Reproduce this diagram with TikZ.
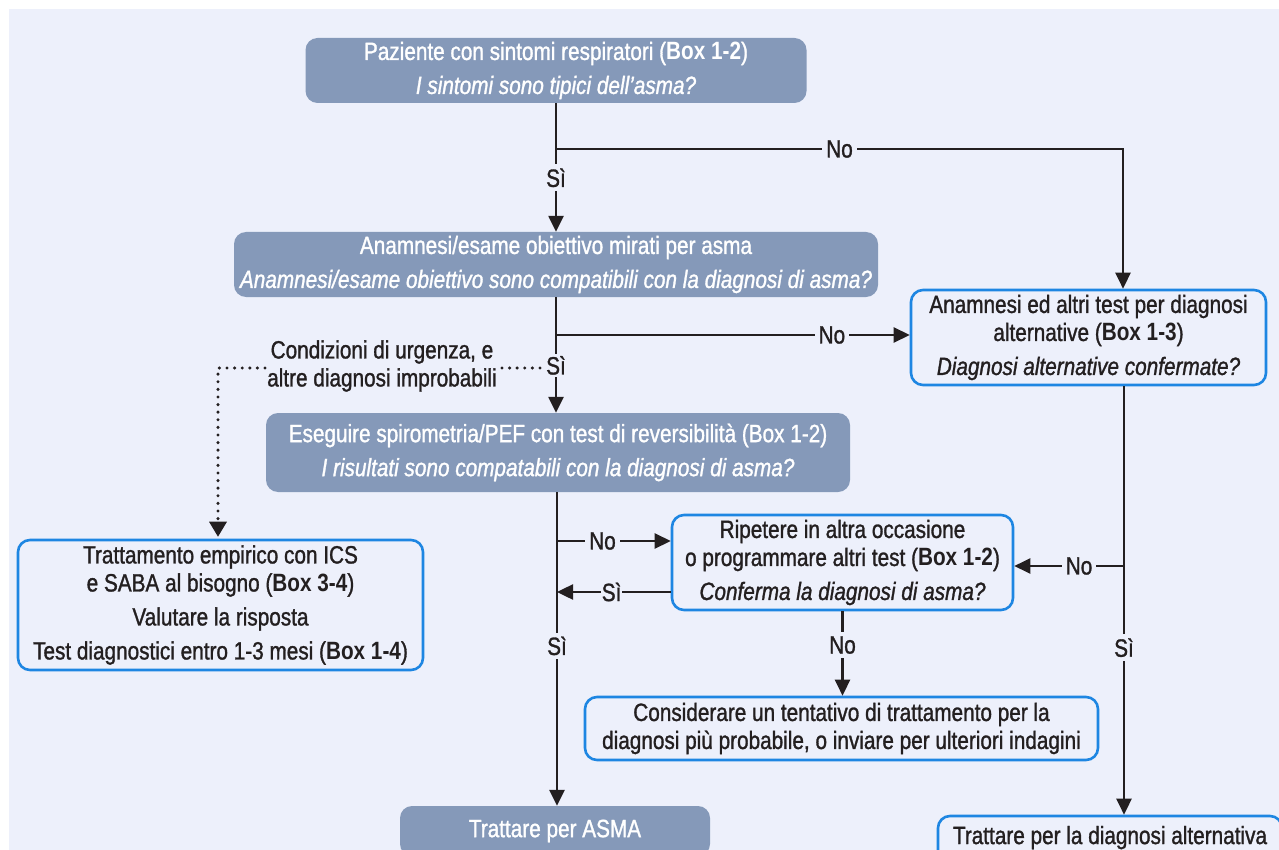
\documentclass[tikz,border=0pt]{standalone}
\usepackage{fontspec}
\setmainfont{Liberation Sans}[FakeStretch=0.83, UprightFeatures={FakeBold=1.2}, ItalicFeatures={FakeBold=1.2}]
\usetikzlibrary{arrows.meta}
\definecolor{bg}{HTML}{EDF0FB}
\definecolor{fillbox}{HTML}{8599B9}
\definecolor{bluebd}{HTML}{1E86E2}
\definecolor{ink}{HTML}{231F20}
\begin{document}
\begin{tikzpicture}[x=1pt,y=-1pt,
  every node/.style={font=\fontsize{25}{28}\selectfont, text=ink},
  filled/.style={rounded corners=12pt, fill=fillbox, text=white, align=center, inner sep=0pt},
  outlined/.style={rounded corners=12pt, draw=bluebd, line width=2.6pt, fill=bg, align=center, inner sep=0pt},
  conn/.style={draw=ink, line width=2.5pt},
  arr/.style={conn, -{Triangle[length=16pt,width=15pt]}},
  lbl/.style={fill=bg, inner sep=4pt},
  dotline/.style={draw=ink, line width=3.4pt, line cap=round, dash pattern=on 0pt off 7.6pt},
]
\useasboundingbox (0,0) rectangle (1279,850);
\fill[bg] (9,9) rectangle (1279,850);

% boxes
\node[filled, minimum width=501pt, minimum height=65pt] (b1) at (556,70.5)
  {Paziente con sintomi respiratori (\textbf{Box 1-2})\\[6pt]\textit{I sintomi sono tipici dell’asma?}};
\node[filled, minimum width=644pt, minimum height=65pt] (b2) at (556,264.5)
  {Anamnesi/esame obiettivo mirati per asma\\[6pt]\textit{Anamnesi/esame obiettivo sono compatibili con la diagnosi di asma?}};
\node[outlined, minimum width=355pt, minimum height=95pt] (b3) at (1088.5,337.5)
  {Anamnesi ed altri test per diagnosi\\alternative (\textbf{Box 1-3})\\[6pt]\textit{Diagnosi alternative confermate?}};
\node[filled, minimum width=584pt, minimum height=79pt] (b4) at (558,452.5)
  {Eseguire spirometria/PEF con test di reversibilità (Box 1-2)\\[6pt]\textit{I risultati sono compatabili con la diagnosi di asma?}};
\node[outlined, minimum width=405pt, minimum height=130pt] (b5) at (220.5,605)
  {Trattamento empirico con ICS\\e SABA al bisogno (\textbf{Box 3-4})\\[6pt]Valutare la risposta\\[6pt]Test diagnostici entro 1-3 mesi (\textbf{Box 1-4})};
\node[outlined, minimum width=341pt, minimum height=95pt] (b6) at (842.5,562.5)
  {Ripetere in altra occasione\\o programmare altri test (\textbf{Box 1-2})\\[6pt]\textit{Conferma la diagnosi di asma?}};
\node[outlined, minimum width=513pt, minimum height=63pt] (b7) at (841.5,728.5)
  {Considerare un tentativo di trattamento per la\\diagnosi più probabile, o inviare per ulteriori indagini};
\node[filled, minimum width=310pt, minimum height=50pt] (b8) at (555,831)
  {Trattare per ASMA};
\node[outlined, minimum width=344pt, minimum height=50pt] (b9) at (1110,841)
  {\raisebox{12pt}{Trattare per la diagnosi alternativa}};

\node[align=center, inner sep=2pt] (cond) at (382,366)
  {Condizioni di urgenza, e\\altre diagnosi improbabili};

% junction coordinates
\coordinate (j1) at (556,149);
\coordinate (c3) at (1123,149);
\coordinate (j2) at (556,335);
\coordinate (d1) at (218,368);
\coordinate (d2) at (548,368);
\coordinate (s1) at (557,541);
\coordinate (s2) at (557,592);
\coordinate (r1) at (1124,566);

% dotted path
\draw[dotline] ([xshift=3pt]cond.east |- d2) -- (d2);
\draw[dotline] (cond.west |- d1) -- (d1) -- ([yshift=16pt]d1 |- b5.north);
\fill[ink] ([yshift=2pt]d1 |- b5.north) -- ++(-9,-15) -- ++(18,0) -- cycle;

% connectors
\draw[arr] (b1.south) -- node[lbl, pos=0.58]{Sì} (b1.south |- b2.north);
\draw[arr] (j1) -- node[lbl, pos=0.5]{No} (c3) -- (c3 |- b3.north);
\draw[arr] (b2.south) -- node[lbl, pos=0.59, inner sep=2pt]{Sì} (b2.south |- b4.north);
\draw[arr] (j2) -- node[lbl, pos=0.78]{No} (j2 -| b3.west);
\draw[arr] (s1 |- b4.south) -- node[lbl, pos=0.49]{Sì} (s1 |- b8.north);
\draw[arr] (s1) -- node[lbl, pos=0.4]{No} (s1 -| b6.west);
\draw[arr] (s2 -| b6.west) -- node[lbl, pos=0.52, inner sep=1pt]{Sì} (s2);
\draw[arr] (b6.south) -- node[lbl, pos=0.4]{No} (b6.south |- b7.north);
\draw[arr] (r1 |- b3.south) -- node[lbl, pos=0.61]{Sì} (r1 |- b9.north);
\draw[arr] (r1) -- node[lbl, pos=0.41]{No} (r1 -| b6.east);
\end{tikzpicture}
\end{document}
